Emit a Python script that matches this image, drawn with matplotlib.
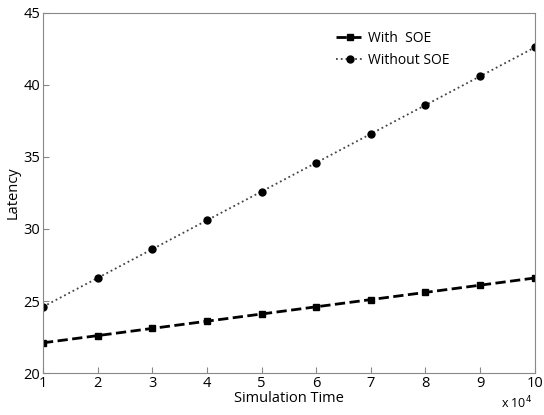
import matplotlib
matplotlib.use("Agg")
import matplotlib.pyplot as plt

# simulation time (x 10^4)
sim_time = [1, 2, 3, 4, 5, 6, 7, 8, 9, 10]
with_soe = [22.1, 22.6, 23.1, 23.6, 24.1, 24.6, 25.1, 25.6, 26.1, 26.6]
without_soe = [24.6, 26.6, 28.6, 30.6, 32.6, 34.6, 36.6, 38.6, 40.6, 42.6]

plt.rcParams["font.family"] = ["Open Sans", "DejaVu Sans"]
fig = plt.figure(figsize=(5.44, 4.15), dpi=100)
ax = fig.add_axes([0.079, 0.101, 0.904, 0.868])

ax.plot(sim_time, with_soe, ls="--", lw=2, color="black", marker="s", ms=5, label="With  SOE")
ax.plot(sim_time, without_soe, ls=":", lw=1.3, color="#444444", marker="o", ms=5,
        mfc="black", mec="black", label="Without SOE")

ax.set_xlim(1, 10); ax.set_ylim(20, 45)
ax.set_xticks(sim_time)
ax.set_yticks([20, 25, 30, 35, 40, 45])
for s in ax.spines.values():
    s.set_color("#888888")
ax.tick_params(direction="in", length=4, color="#888888", labelsize=10.5, pad=2)
ax.set_xlabel("Simulation Time", fontsize=10.5, labelpad=0)
ax.set_ylabel("Latency", fontsize=10.5, labelpad=2)
ax.text(0.995, -0.06, "x 10$^4$", transform=ax.transAxes, ha="right", va="top", fontsize=9)
ax.legend(loc="upper left", bbox_to_anchor=(0.57, 0.985), frameon=False, fontsize=10,
          handlelength=2, handletextpad=0.3, labelspacing=0.5)

fig.savefig("out.png", dpi=100)
